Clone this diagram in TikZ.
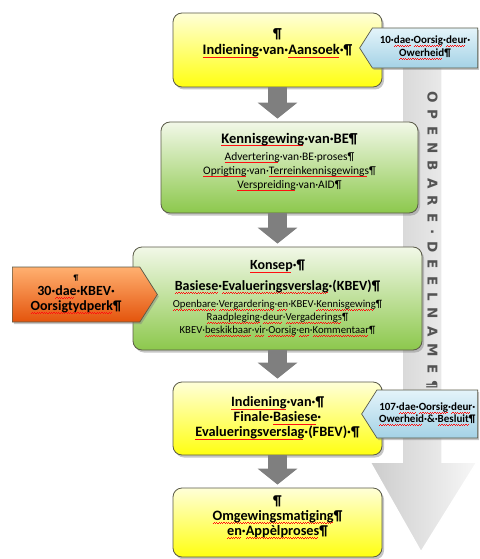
\documentclass[tikz,border=0pt]{standalone}
\usepackage{fontspec}
\setmainfont{Carlito}
\newfontfamily\deelfont{DejaVu Sans}
\usepackage{tikz}
\usetikzlibrary{arrows.meta,shapes.symbols,shadows}

\definecolor{ylwtop}{HTML}{FFFFD8}
\definecolor{ylwbot}{HTML}{FFFF10}
\definecolor{grntop}{HTML}{F2F8E8}
\definecolor{grnbot}{HTML}{8CC84C}
\definecolor{blutop}{HTML}{E4F4FA}
\definecolor{blubot}{HTML}{A4D2E6}
\definecolor{orgtop}{HTML}{FFB070}
\definecolor{orgbot}{HTML}{E4540C}
\definecolor{flowgray}{HTML}{7F7F7F}
\definecolor{framegray}{HTML}{5A5A48}
\definecolor{squiggle}{HTML}{FF1010}

% red spelling squiggle
\newcommand\wavy[1]{\setbox0\hbox{#1}\rlap{\textcolor{squiggle}{\hbox to\wd0{%
  \leaders\hbox{\rule[-3.1pt]{1.2pt}{0.8pt}\rule[-2.4pt]{1.2pt}{0.8pt}}\hfill}}}\box0}
% pushes a text block up in its box
\newcommand\lift[1]{\rule[-#1]{0pt}{0pt}}

\begin{document}
\begin{tikzpicture}[x=1pt,y=-1pt,
    box/.style={draw=framegray, line width=0.8pt, rounded corners=9pt, align=center,
      drop shadow={shadow xshift=2pt, shadow yshift=-2.5pt, opacity=0.45}},
    yellowbox/.style={box, top color=ylwtop, bottom color=ylwbot},
    greenbox/.style={box, top color=grntop, bottom color=grnbot},
    callout/.style={shape=signal, draw=framegray, line width=0.7pt, align=center,
      signal pointer angle=115, inner sep=0pt,
      drop shadow={shadow xshift=1.5pt, shadow yshift=-2pt, opacity=0.45}},
    bluecall/.style={callout, signal to=west, anchor=east, top color=blutop, bottom color=blubot},
    orangecall/.style={callout, signal to=east, anchor=west, top color=orgtop, bottom color=orgbot},
    flowarrow/.style={draw=flowgray, line width=19pt, shorten >=3pt,
      -{Triangle[width=39pt, length=16pt]}}]
  \useasboundingbox (0,0) rectangle (479,559);

  % openbare deelname
  \path[left color=gray!40, right color=gray!6, draw=white, line width=1.5pt]
    (402,40) -- (442,40) -- (442,462) -- (477,462) -- (421,552)
    -- (370,462) -- (402,462) -- cycle;
  \node[rotate=-90, font=\deelfont\fontsize{13.5}{15}\bfseries\addfontfeatures{LetterSpace=52},
    text=gray!65!black] (deelname) at (432,240) {OPENBARE·DEELNAME¶};

  \node[yellowbox, minimum width=209pt, minimum height=74pt,
    font=\fontsize{14.5}{16}\bfseries] (aansoek) at (277.5,50)
    {¶\\\wavy{Indiening}·van·\wavy{Aansoek}·¶\lift{16pt}};
  \node[greenbox, minimum width=257pt, minimum height=91pt,
    font=\fontsize{11.5}{14}\selectfont] (kennis) at (289.5,167.5)
    {\fontsize{14.5}{16}\bfseries \wavy{Kennisgewing}·van·BE¶\\[3pt]
     \wavy{Advertering}·van·BE·proses¶\\
     \wavy{Oprigting}·van·\wavy{Terreinkennisgewings}¶\\
     \wavy{Verspreiding}·van·AID¶\lift{14pt}};
  \node[greenbox, minimum width=289pt, minimum height=103pt,
    font=\fontsize{10.7}{13}\selectfont] (konsep) at (277.5,298.5)
    {\fontsize{14}{16}\bfseries \wavy{Konsep}·¶\\[6pt]
     \fontsize{14}{16}\bfseries \wavy{Basiese}·\wavy{Evalueringsverslag}·(KBEV)¶\\[4pt]
     \wavy{Openbare}·\wavy{Vergardering}·\wavy{en}·KBEV·\wavy{Kennisgewing}¶\\
     \wavy{Raadpleging}·\wavy{deur}·\wavy{Vergaderings}¶\\
     KBEV·\wavy{beskikbaar}·\wavy{vir}·\wavy{Oorsig}·\wavy{en}·\wavy{Kommentaar}¶};
  \node[yellowbox, minimum width=209pt, minimum height=73pt,
    font=\fontsize{14.3}{15}\bfseries] (finale) at (277.5,418.5)
    {\wavy{Indiening}·van·¶\\Finale·\wavy{Basiese}·\\\wavy{Evalueringsverslag}·(FBEV)·¶};
  \node[yellowbox, minimum width=209pt, minimum height=69pt,
    font=\fontsize{14.3}{15}\bfseries] (appel) at (277.5,522.5)
    {¶\\\wavy{Omgewingsmatiging}¶\\\wavy{en}·\wavy{Appèlproses}¶\lift{13pt}};

  \node[bluecall, minimum width=118pt, minimum height=40pt,
    font=\fontsize{11}{13}\bfseries] (oorsig) at (478,48)
    {10·\wavy{dae}·\wavy{Oorsig}·\wavy{deur}·\\\wavy{Owerheid}¶};
  \node[orangecall, minimum width=145pt, minimum height=55pt,
    font=\fontsize{14}{15}\bfseries] (tydperk) at (12,294.5)
    {{\fontsize{8}{8}\selectfont ¶}\\30·\wavy{dae}·KBEV·\\\wavy{Oorsigtydperk}¶};
  \node[bluecall, minimum width=116pt, minimum height=48pt,
    font=\fontsize{11}{12}\bfseries] (besluit) at (478,414)
    {107·\wavy{dae}·\wavy{Oorsig}·\wavy{deur}·\\\wavy{Owerheid}·\&·\wavy{Besluit}¶};

  \draw[flowarrow] (aansoek.south) -- (aansoek.south |- kennis.north);
  \draw[flowarrow] (konsep.north |- kennis.south) -- (konsep.north);
  \draw[flowarrow] (konsep.south) -- (finale.north);
  \draw[flowarrow] (finale.south) -- (appel.north);
\end{tikzpicture}
\end{document}
